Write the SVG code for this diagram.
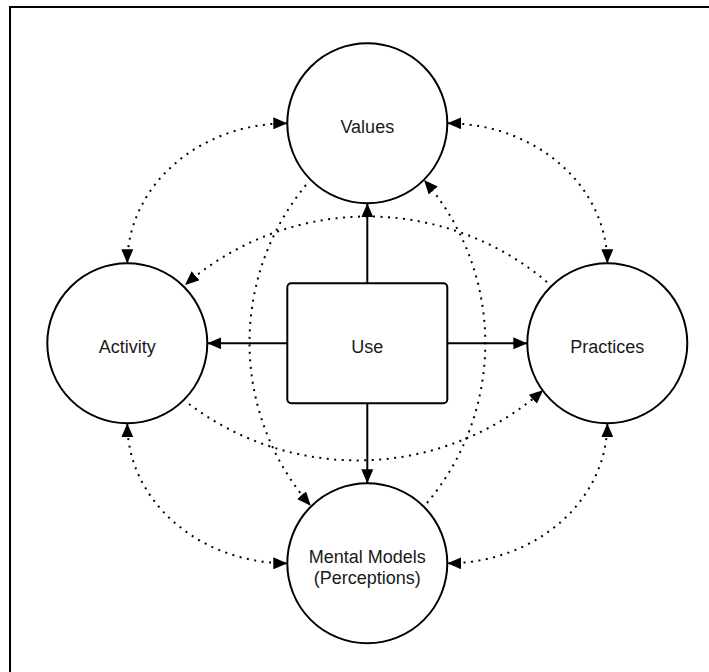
<svg xmlns="http://www.w3.org/2000/svg" width="709" height="672" viewBox="0 0 709 672">
<style>
.node{fill:#fff;stroke:#000;stroke-width:2}
.lbl{font-family:"Liberation Sans",Arial,sans-serif;font-size:18px;fill:#1a1a1a;text-anchor:middle}
.solid{fill:none;stroke:#000;stroke-width:2;marker-end:url(#arr)}
.dot{fill:none;stroke:#000;stroke-width:2;stroke-dasharray:2 5.5}
.end{marker-end:url(#arr)}
.both{marker-start:url(#arr);marker-end:url(#arr)}
</style>
<defs>
<marker id="arr" markerUnits="userSpaceOnUse" markerWidth="14" markerHeight="12" viewBox="0 0 14 12" refX="14" refY="6" orient="auto-start-reverse">
<path d="M0,0 L14,6 L0,12 Z" fill="#000" stroke="none"/>
</marker>
</defs>
<rect width="709" height="672" fill="#fff"/>
<path d="M10,672 V7 H709" fill="none" stroke="#000" stroke-width="2"/>
<g id="connectors">
<line class="solid" x1="367.3" y1="283.3" x2="367.3" y2="203.3"/>
<line class="solid" x1="287.3" y1="343.3" x2="207.3" y2="343.3"/>
<line class="solid" x1="447.3" y1="343.3" x2="527.3" y2="343.3"/>
<line class="solid" x1="367.3" y1="403.3" x2="367.3" y2="483.3"/>
<path class="dot both" d="M287.3,123.3 A160,140 0 0 0 127.3,263.3"/>
<path class="dot both" d="M447.3,123.3 A160,140 0 0 1 607.3,263.3"/>
<path class="dot both" d="M127.3,423.3 A160,140 0 0 0 287.3,563.3"/>
<path class="dot both" d="M607.3,423.3 A160,140 0 0 1 447.3,563.3"/>
<path class="dot end" d="M306,185 A248,248 0 0 0 310.7,505.7"/>
<path class="dot end" d="M427,503 A248,248 0 0 0 424,180"/>
<path class="dot end" d="M547,282 A278,278 0 0 0 185,285"/>
<path class="dot end" d="M189,404 A280,280 0 0 0 543.3,390"/>
</g>
<g id="values">
<circle class="node" cx="367.3" cy="123.3" r="80"/>
<text class="lbl" x="367.3" y="132.7">Values</text>
</g>
<g id="activity">
<circle class="node" cx="127.3" cy="343.3" r="80"/>
<text class="lbl" x="127.3" y="352.5">Activity</text>
</g>
<g id="practices">
<circle class="node" cx="607.3" cy="343.3" r="80"/>
<text class="lbl" x="607.3" y="352.5">Practices</text>
</g>
<g id="mental-models">
<circle class="node" cx="367.3" cy="563.3" r="80"/>
<text class="lbl" x="367.3" y="562.5">Mental Models</text>
<text class="lbl" x="367.3" y="583.5">(Perceptions)</text>
</g>
<g id="use">
<rect class="node" x="287.3" y="283.3" width="160" height="120" rx="4"/>
<text class="lbl" x="367.3" y="353.3">Use</text>
</g>
</svg>
